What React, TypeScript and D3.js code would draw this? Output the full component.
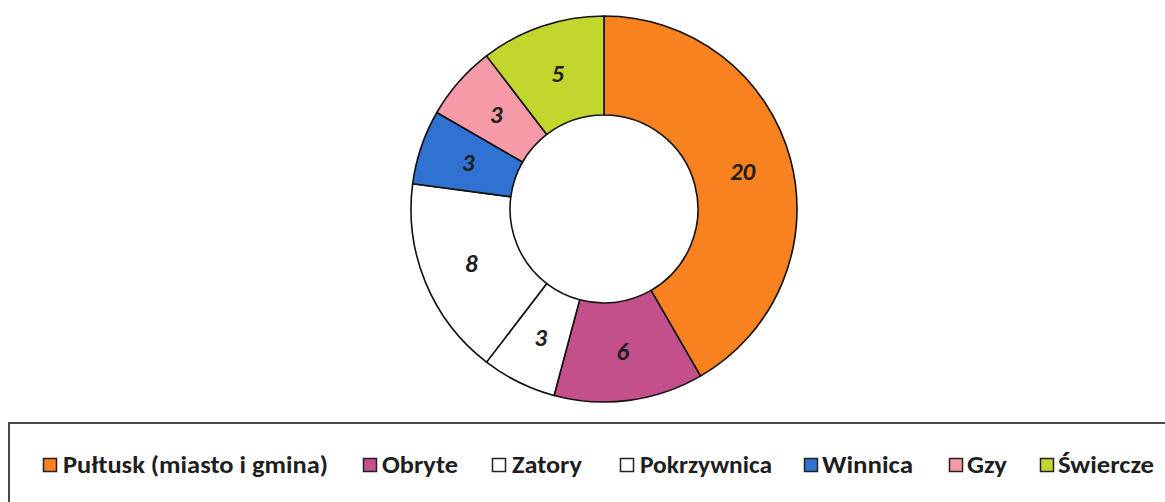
import React, { useEffect, useRef } from 'react';
import * as d3 from 'd3';

// data
const categories = ['Pułtusk (miasto i gmina)', 'Obryte', 'Zatory', 'Pokrzywnica', 'Winnica', 'Gzy', 'Świercze'];
const values = [20, 6, 3, 8, 3, 3, 5];
const colors = ['#f7821f', '#c4508b', '#ffffff', '#ffffff', '#2f72d2', '#f59aa6', '#c3d62e'];

// legend layout (x of swatch, x of text start, text width)
const legendSwatchX = [43, 363, 492, 620, 804, 949, 1040];
const legendTextX = [63, 382, 512, 640, 822, 967, 1058];
const legendTextW = [265, 76, 70, 132, 91, 40, 96];

const W = 1165;
const H = 502;

const App = () => {
  const svgRef = useRef(null);

  useEffect(() => {
    const svg = d3.select(svgRef.current);
    svg.selectAll('*').remove();

    const cx = 604;
    const cy = 209;
    const outerR = 193;
    const innerR = 94;

    const data = categories.map((name, i) => ({ name, value: values[i], color: colors[i] }));

    const pie = d3.pie().sort(null).value(d => d.value);
    const arcs = pie(data);

    const arc = d3.arc().innerRadius(innerR).outerRadius(outerR);
    const labelArc = d3.arc().innerRadius((innerR + outerR) / 2).outerRadius((innerR + outerR) / 2);

    const g = svg.append('g').attr('transform', `translate(${cx},${cy})`);

    g.selectAll('path')
      .data(arcs)
      .enter().append('path')
      .attr('d', arc)
      .attr('fill', d => d.data.color)
      .attr('stroke', '#111')
      .attr('stroke-width', 1.6)
      .attr('stroke-linejoin', 'round');

    g.selectAll('text')
      .data(arcs)
      .enter().append('text')
      .attr('transform', d => `translate(${labelArc.centroid(d)})`)
      .attr('text-anchor', 'middle')
      .attr('dominant-baseline', 'central')
      .style('font-family', "Carlito, 'Open Sans', sans-serif")
      .style('font-weight', 'bold')
      .style('font-style', 'italic')
      .style('font-size', '25px')
      .style('fill', '#1e1e1e')
      .text(d => d.data.value);

    // legend box
    svg.append('rect')
      .attr('x', 9)
      .attr('y', 423)
      .attr('width', W + 20)
      .attr('height', 120)
      .attr('fill', 'none')
      .attr('stroke', '#4a4a4a')
      .attr('stroke-width', 2);

    const legend = svg.append('g');
    data.forEach((d, i) => {
      legend.append('rect')
        .attr('x', legendSwatchX[i] + 0.5)
        .attr('y', 458.5)
        .attr('width', 13)
        .attr('height', 13)
        .attr('fill', d.color)
        .attr('stroke', '#222')
        .attr('stroke-width', 1.5);

      legend.append('text')
        .attr('x', legendTextX[i])
        .attr('y', 473)
        .attr('textLength', legendTextW[i])
        .attr('lengthAdjust', 'spacingAndGlyphs')
        .style('font-family', "Carlito, 'Open Sans', sans-serif")
        .style('font-weight', 'bold')
        .style('font-size', '24px')
        .style('fill', '#1e1e1e')
        .text(d.name);
    });
  }, []);

  return (
    <svg
      ref={svgRef}
      width={W}
      height={H}
      style={{ position: 'absolute', left: 0, top: 0, background: '#fff', display: 'block' }}
    ></svg>
  );
};

export default App;
